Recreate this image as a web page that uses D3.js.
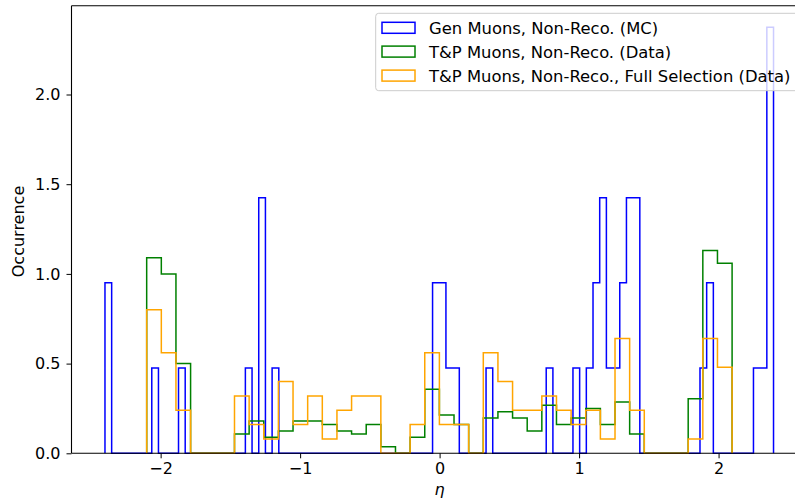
<!DOCTYPE html>
<html>
<head>
<meta charset="utf-8">
<script src="https://cdn.jsdelivr.net/npm/d3@7"></script>
<style>
  html, body { margin: 0; padding: 0; background: #fff; }
  svg { display: block; }
  text { font-family: "DejaVu Sans", sans-serif; }
</style>
</head>
<body>
<svg id="chart" width="795" height="499"></svg>
<script>
// ---- Data ----
const seriesNames = [
  "Gen Muons, Non-Reco. (MC)",
  "T&P Muons, Non-Reco. (Data)",
  "T&P Muons, Non-Reco., Full Selection (Data)"
];
const seriesColors = ["#0000ff", "#008000", "#ffa500"];

// Gen Muons: 100 bins from -2.399 to 2.394
const genRange = [-2.399, 2.394];
const genValues = [
  0.95, 0, 0, 0, 0, 0, 0, 0.475, 0, 0,
  0, 0.475, 0, 0, 0, 0, 0, 0, 0, 0,
  0, 0.475, 0, 1.425, 0, 0.475, 0, 0, 0, 0,
  0, 0, 0, 0, 0, 0, 0, 0, 0, 0,
  0, 0, 0, 0, 0, 0, 0, 0, 0, 0.95,
  0.95, 0.475, 0.475, 0, 0, 0, 0, 0.475, 0, 0,
  0, 0, 0, 0, 0, 0, 0.475, 0, 0, 0,
  0.475, 0, 0.475, 0.95, 1.425, 0.475, 0.475, 0.95, 1.425, 1.425,
  0, 0, 0, 0, 0, 0, 0, 0, 0, 0.475,
  0.95, 0, 0, 0, 0, 0, 0, 0.475, 0.475, 2.375
];

// T&P: 40 bins from -2.1 to 2.1
const tpRange = [-2.1, 2.097];
const tpValues = [
  1.09, 1.00, 0.50, 0, 0, 0, 0.107, 0.18, 0.089, 0.125,
  0.18, 0.18, 0.161, 0.125, 0.107, 0.161, 0.036, 0, 0.089, 0.357,
  0.214, 0.161, 0, 0.197, 0.232, 0.197, 0.125, 0.268, 0.161, 0.197,
  0.25, 0.161, 0.286, 0.107, 0, 0, 0, 0.304, 1.13, 1.06
];
const fullSelValues = [
  0.80, 0.56, 0.24, 0, 0, 0, 0.32, 0.16, 0.08, 0.40,
  0.16, 0.32, 0.08, 0.24, 0.32, 0.32, 0, 0, 0.16, 0.56,
  0.16, 0.16, 0, 0.56, 0.40, 0.24, 0.24, 0.32, 0.24, 0.16,
  0.24, 0.08, 0.64, 0.24, 0, 0, 0, 0.08, 0.64, 0.48
];

const xTicks = [-2, -1, 0, 1, 2];
const yTicks = [0.0, 0.5, 1.0, 1.5, 2.0];
const xLabel = "η";
const yLabel = "Occurrence";

// ---- Layout ----
const svg = d3.select("#chart");
const mLeft = 71.5, mRight = 807, mTop = 5.7, mBottom = 453.3;

const x = d3.scaleLinear().domain([-2.639, 2.634]).range([mLeft, mRight]);
const y = d3.scaleLinear().domain([0, 2.495]).range([mBottom, mTop]);

function edges(range, n) {
  const w = (range[1] - range[0]) / n;
  return d3.range(n + 1).map(i => range[0] + i * w);
}

function stepPoints(range, vals) {
  const e = edges(range, vals.length);
  const pts = [[e[0], 0]];
  vals.forEach((v, i) => { pts.push([e[i], v]); pts.push([e[i + 1], v]); });
  pts.push([e[vals.length], 0]);
  return pts;
}

const line = d3.line().x(d => x(d[0])).y(d => y(d[1]));

const series = [
  { range: genRange, vals: genValues },
  { range: tpRange, vals: tpValues },
  { range: tpRange, vals: fullSelValues }
];

const plot = svg.append("g");
series.forEach((s, i) => {
  plot.append("path")
    .attr("d", line(stepPoints(s.range, s.vals)))
    .attr("fill", "none")
    .attr("stroke", seriesColors[i])
    .attr("stroke-width", 1.5)
    .attr("stroke-linejoin", "miter");
});

// ---- Axes ----
const fs = "16px";
const xAxis = d3.axisBottom(x).tickValues(xTicks)
  .tickFormat(d => d < 0 ? "\u2212" + Math.abs(d) : String(d))
  .tickSize(5).tickPadding(4);
const gx = svg.append("g").attr("transform", `translate(0,${mBottom})`).call(xAxis);
gx.select(".domain").remove();
gx.selectAll("text").attr("font-size", fs).attr("fill", "#000").attr("font-family", "DejaVu Sans");
gx.selectAll("line").attr("stroke", "#000").attr("stroke-width", 1);

const yAxis = d3.axisLeft(y).tickValues(yTicks)
  .tickFormat(d3.format(".1f")).tickSize(5).tickPadding(6);
const gy = svg.append("g").attr("transform", `translate(${mLeft},0)`).call(yAxis);
gy.select(".domain").remove();
gy.selectAll("text").attr("font-size", fs).attr("fill", "#000").attr("font-family", "DejaVu Sans");
gy.selectAll("line").attr("stroke", "#000").attr("stroke-width", 1);

// spines
const sp = svg.append("g").attr("stroke", "#000").attr("stroke-width", 1.1).attr("fill", "none");
sp.append("line").attr("x1", mLeft).attr("x2", mLeft).attr("y1", mTop).attr("y2", mBottom);
sp.append("line").attr("x1", mLeft).attr("x2", mRight).attr("y1", mBottom).attr("y2", mBottom);
sp.append("line").attr("x1", mLeft).attr("x2", mRight).attr("y1", mTop).attr("y2", mTop);
sp.append("line").attr("x1", mRight).attr("x2", mRight).attr("y1", mTop).attr("y2", mBottom);

// labels
svg.append("text").attr("x", x(0)).attr("y", 495)
  .attr("text-anchor", "middle").attr("font-size", fs).attr("font-style", "italic")
  .text(xLabel);
svg.append("text")
  .attr("transform", `translate(24,${(mTop + mBottom) / 2 + 2}) rotate(-90)`)
  .attr("text-anchor", "middle").attr("font-size", fs)
  .text(yLabel);

// ---- Legend ----
const lg = svg.append("g");
lg.append("rect").attr("x", 375.7).attr("y", 13.3).attr("width", 424).attr("height", 77.4)
  .attr("rx", 3).attr("fill", "#fff").attr("fill-opacity", 0.8)
  .attr("stroke", "#cccccc").attr("stroke-width", 1);
const rowY = [27.8, 51.6, 75.6];
seriesNames.forEach((name, i) => {
  lg.append("rect").attr("x", 382).attr("y", rowY[i] - 5.5).attr("width", 33).attr("height", 11)
    .attr("fill", "none").attr("stroke", seriesColors[i]).attr("stroke-width", 1.5);
  lg.append("text").attr("x", 429).attr("y", rowY[i]).attr("dy", "0.36em")
    .attr("font-size", "16.4px").attr("fill", "#000").text(name);
});
</script>
</body>
</html>
